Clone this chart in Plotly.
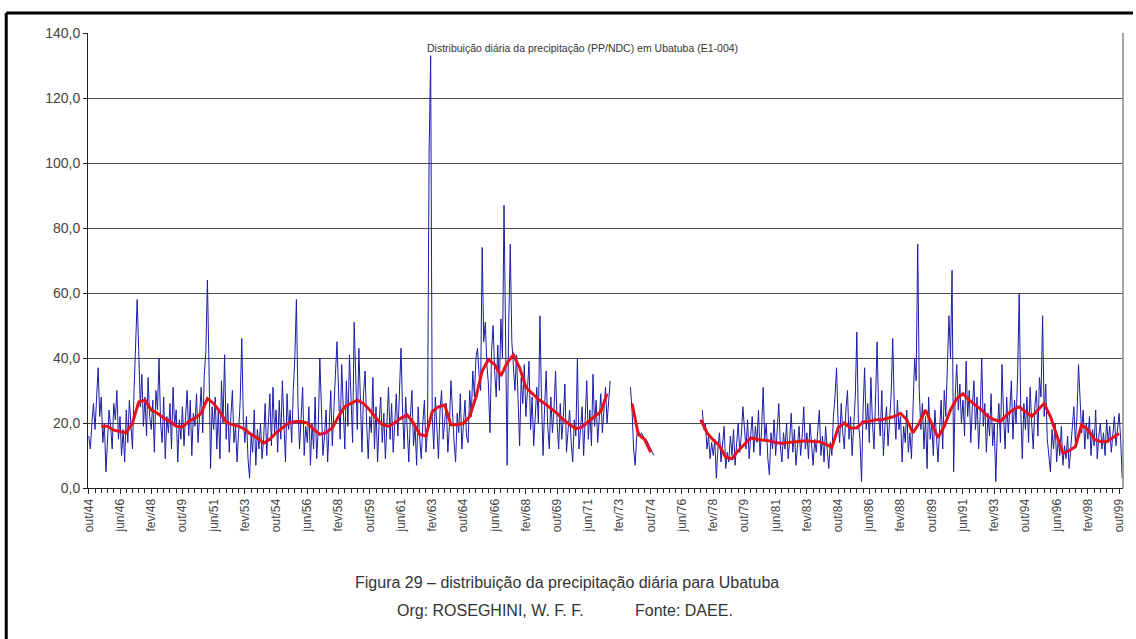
import plotly.graph_objects as go

# monthly series, out/44 .. dez/99 (None = no data)
precip = [
    16, 12, 20, 26, 18, 29, 37, 22, 28, 14, 20, 5, 17, 24, 19, 12, 26, 21, 30, 15,
    22, 10, 18, 8, 24, 14, 27, 20, 12, 30, 45, 58, 42, 25, 35, 19, 28, 16, 34, 22,
    18, 27, 11, 30, 24, 40, 20, 14, 28, 9, 22, 17, 26, 12, 31, 19, 24, 8, 21, 15,
    25, 13, 22, 30, 16, 27, 10, 23, 19, 29, 14, 24, 31, 17, 35, 42, 64, 38, 6, 25,
    18, 28, 12, 24, 9, 33, 20, 41, 15, 26, 11, 22, 30, 14, 19, 8, 20, 27, 46, 21,
    14, 22, 9, 3, 16, 11, 24, 7, 18, 12, 20, 9, 15, 26, 10, 22, 29, 13, 31, 17,
    24, 11, 27, 15, 33, 20, 8, 29, 18, 24, 14, 30, 40, 58, 26, 12, 22, 31, 10, 19,
    14, 25, 7, 20, 12, 28, 9, 18, 40, 22, 10, 16, 24, 8, 19, 30, 13, 27, 35, 45,
    28, 15, 38, 22, 12, 33, 19, 41, 26, 14, 51, 30, 18, 43, 24, 11, 29, 36, 20, 9,
    22, 17, 34, 12, 25, 8, 20, 28, 14, 23, 9, 19, 31, 15, 26, 11, 21, 29, 16, 30,
    43, 24, 12, 28, 17, 8, 22, 30, 13, 19, 7, 25, 15, 9, 20, 27, 11, 18, 103, 133,
    22, 12, 28, 18, 9, 24, 30, 15, 20, 26, 11, 19, 33, 21, 14, 8, 23, 17, 29, 12,
    19, 27, 16, 14, 30, 22, 36, 28, 40, 43, 35, 30, 74, 45, 51, 38, 32, 17, 42, 50,
    36, 28, 44, 30, 52, 40, 87, 48, 7, 50, 75, 45, 38, 30, 41, 25, 13, 34, 26, 38,
    22, 30, 39, 18, 28, 13, 24, 31, 20, 53, 27, 10, 25, 36, 19, 12, 28, 17, 24, 36,
    20, 12, 26, 15, 22, 32, 11, 19, 24, 14, 8, 21, 16, 40, 12, 18, 25, 10, 20, 33,
    15, 24, 13, 35, 19, 27, 14, 22, 29, 17, 25, 31, 20, 28, 33, None, None, None, None, None,
    None, None, None, None, None, None, None, 31, 24, 12, 7, 16, 18, 16, 17, 16, 15, 15, 14, 13,
    12, 11, 10, None, None, None, None, None, None, None, None, None, None, None, None, None, None, None, None, None,
    None, None, None, None, None, None, None, None, None, None, None, None, None, 24, 18, 20, 12, 16, 9, 14,
    10, 15, 3, 12, 17, 8, 14, 19, 6, 11, 8, 16, 10, 18, 7, 13, 20, 11, 16, 25,
    18, 12, 21, 9, 16, 22, 11, 19, 14, 24, 10, 18, 31, 15, 20, 9, 4, 17, 12, 21,
    10, 18, 26, 13, 8, 17, 12, 20, 9, 15, 23, 11, 18, 7, 14, 19, 10, 16, 25, 12,
    17, 9, 20, 13, 7, 15, 11, 18, 24, 10, 16, 8, 19, 12, 6, 14, 10, 22, 28, 37,
    20, 14, 26, 17, 12, 24, 30, 15, 22, 10, 19, 28, 48, 20, 15, 2, 24, 37, 18, 26,
    14, 34, 20, 12, 28, 45, 22, 16, 30, 10, 19, 25, 13, 21, 29, 46, 24, 15, 27, 18,
    22, 8, 19, 14, 24, 11, 17, 9, 25, 40, 33, 75, 30, 18, 26, 12, 22, 6, 28, 15,
    20, 10, 24, 14, 8, 18, 27, 12, 30, 22, 35, 53, 40, 67, 5, 28, 38, 24, 32, 20,
    27, 16, 39, 22, 30, 14, 25, 33, 18, 28, 12, 22, 40, 19, 26, 11, 23, 16, 29, 13,
    20, 2, 18, 26, 14, 38, 22, 12, 28, 17, 24, 33, 15, 27, 20, 35, 60, 24, 9, 26,
    18, 28, 14, 31, 20, 12, 25, 30, 16, 34, 28, 53, 22, 32, 15, 9, 5, 18, 12, 20,
    8, 15, 10, 19, 7, 13, 9, 16, 6, 12, 18, 25, 14, 22, 38, 26, 17, 24, 12, 20,
    15, 22, 10, 18, 13, 24, 9, 16, 20, 12, 17, 10, 21, 14, 19, 11, 16, 22, 13, 18,
    23, 15, 3,
]

# moving average read every 4 months, starting at month 8
media_movel = [
    19, 19, 17.8, 17.3, 17, 20, 26.5, 27, 24, 23, 21.5, 20.5, 19, 18.8, 20.5, 21.5,
    23, 27.5, 26, 23.5, 20.2, 19.5, 19, 18, 16.5, 15.4, 13.8, 15, 17, 18.5, 20, 20.5,
    20.5, 20, 18, 16.5, 17, 18.5, 22, 25, 26, 27, 26, 24, 21.5, 19.5, 19, 20,
    21.5, 22.5, 20, 16.5, 16, 23.5, 25, 25.5, 19.5, 19.5, 19.9, 22, 28, 36, 39.5, 38,
    34.5, 38.5, 41, 37, 31, 29, 27.3, 26, 24.5, 23, 21, 19.5, 18.2, 18.8, 20.5, 22,
    23.5, 29, None, None, None, 26, 16.5, 15, 11, None, None, None, None, None, None, None,
    21, 17, 14.8, 13, 9.5, 9, 11.5, 13.5, 15.4, 15, 14.8, 14.5, 14, 13.7, 14, 14.2,
    14.2, 14.5, 14.3, 14.2, 13.5, 12.5, 18.5, 20, 18.5, 18.5, 20.4, 20.5, 21, 21, 21.5, 22,
    23, 21, 17, 20, 24, 20, 15.5, 19, 24, 27.5, 29, 27, 25.5, 24, 22, 21,
    20.5, 22.5, 24, 25, 23.5, 22, 24, 26, 22, 16.5, 10.7, 11.5, 12.7, 19.5, 18, 15,
    14.3, 14.2, 15.5, 16.8,
]

rotulos = [
    "out/44", "jun/46", "fev/48", "out/49", "jun/51", "fev/53", "out/54", "jun/56",
    "fev/58", "out/59", "jun/61", "fev/63", "out/64", "jun/66", "fev/68", "out/69",
    "jun/71", "fev/73", "out/74", "jun/76", "fev/78", "out/79", "jun/81", "fev/83",
    "out/84", "jun/86", "fev/88", "out/89", "jun/91", "fev/93", "out/94", "jun/96",
    "fev/98", "out/99",
]
y_ticks = [0, 20, 40, 60, 80, 100, 120, 140]

meses = list(range(len(precip)))
meses_mm = list(range(8, 8 + 4 * len(media_movel), 4))

# plot area in pixels (page 1136 x 639)
L, R, T, B = 88, 1126, 33, 488
W, H = 1136, 639


def px(x):
    return (x - L) / (R - L)


def py(y):
    return (B - y) / (B - T)


fig = go.Figure()
fig.add_trace(go.Scatter(x=meses, y=precip, mode="lines",
                         line=dict(color="#1c1ca8", width=1), connectgaps=False))
fig.add_trace(go.Scatter(x=meses_mm, y=media_movel, mode="lines",
                         line=dict(color="#e3121b", width=3), connectgaps=False))

fig.update_layout(
    width=W, height=H,
    margin=dict(l=L, r=W - R, t=T, b=H - B),
    paper_bgcolor="white", plot_bgcolor="white",
    showlegend=False,
    font=dict(family="Liberation Sans, Arial, sans-serif", color="#444"),
)

fig.update_xaxes(
    range=[-0.5, len(precip) - 0.5],
    tickmode="array", tickvals=[20 * i for i in range(len(rotulos))], ticktext=rotulos,
    tickangle=-90, tickfont=dict(size=12, color="#444"),
    ticks="outside", ticklen=5, tickcolor="#222",
    minor=dict(tickmode="array", tickvals=list(range(0, len(precip), 4)),
               ticks="outside", ticklen=4, tickcolor="#222"),
    showline=True, linecolor="#222", linewidth=1,
    showgrid=False, zeroline=False,
)
fig.update_yaxes(
    range=[0, 140],
    tickmode="array", tickvals=y_ticks, ticktext=[f"{v},0" for v in y_ticks],
    tickfont=dict(size=14, color="#444"),
    ticks="outside", ticklen=4, tickcolor="#222",
    showline=True, linecolor="#222", linewidth=1,
    showgrid=True, gridcolor="#4a4a4a", gridwidth=1.2, zeroline=False,
)

shapes = [
    # plot area right border
    dict(type="line", xref="paper", yref="paper", x0=1, x1=1, y0=0, y1=1,
         line=dict(color="#888", width=1.5)),
    # outer frame
    dict(type="line", xref="paper", yref="paper", x0=px(6), x1=px(1136), y0=py(13), y1=py(13),
         line=dict(color="black", width=3)),
    dict(type="line", xref="paper", yref="paper", x0=px(6), x1=px(6), y0=py(13), y1=py(639),
         line=dict(color="black", width=3)),
]
fig.update_layout(shapes=shapes)

fig.add_annotation(x=px(584), y=py(48), xref="paper", yref="paper", showarrow=False,
                   yanchor="middle",
                   text="Distribuição diária da precipitação (PP/NDC) em Ubatuba (E1-004)",
                   font=dict(size=10.5, color="#333"))
fig.add_annotation(x=px(568), y=py(582), xref="paper", yref="paper", showarrow=False,
                   yanchor="middle",
                   text="Figura 29 – distribuição da precipitação diária para Ubatuba",
                   font=dict(size=16, color="#333"))
fig.add_annotation(x=px(492), y=py(610), xref="paper", yref="paper", showarrow=False,
                   yanchor="middle",
                   text="Org: ROSEGHINI, W. F. F.", font=dict(size=16, color="#333"))
fig.add_annotation(x=px(686), y=py(610), xref="paper", yref="paper", showarrow=False,
                   yanchor="middle",
                   text="Fonte: DAEE.", font=dict(size=16, color="#333"))

# no body margin, so the figure sits at the page origin
fig.write_html("out.html", config={"displayModeBar": False},
               post_script="document.body.style.margin='0';")
